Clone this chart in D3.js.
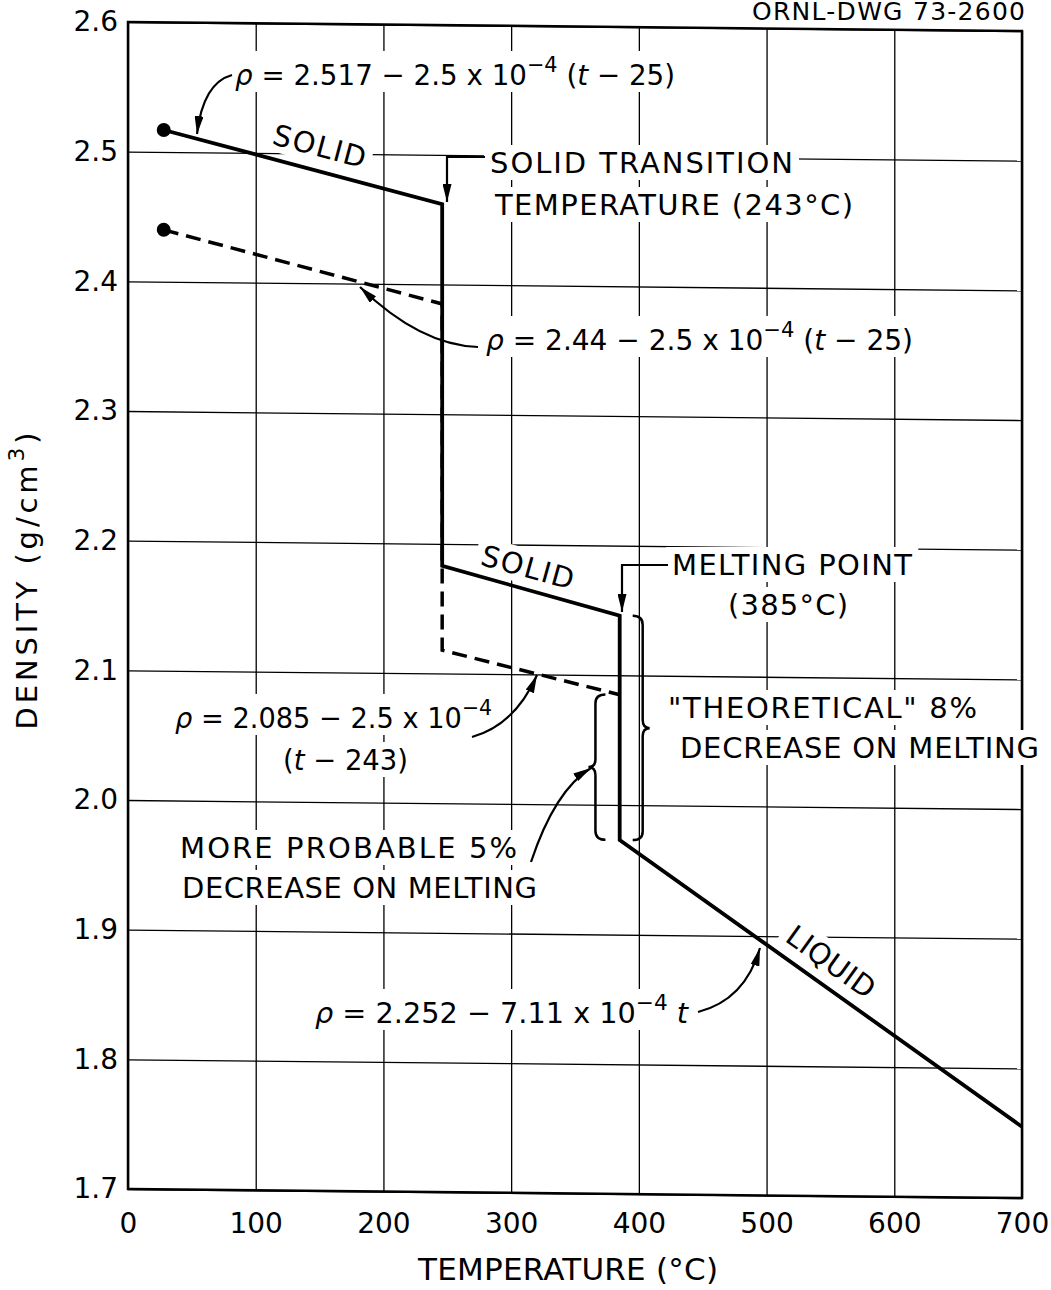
<!DOCTYPE html>
<html>
<head>
<meta charset="utf-8">
<script src="https://cdn.jsdelivr.net/npm/d3@7"></script>
<style>
body { margin: 0; background: #fff; }
svg text { font-family: "DejaVu Sans", sans-serif; fill: #000; }
</style>
</head>
<body>
<script>
// DATA  (temperature in deg C, density in g/cm3)
var xTicks = [0, 100, 200, 300, 400, 500, 600, 700];
var yTicks = [1.7, 1.8, 1.9, 2.0, 2.1, 2.2, 2.3, 2.4, 2.5, 2.6];

// measured curve: solid -> transition drop -> solid -> melting drop -> liquid
var solidT   = [28, 246, 246, 385, 385, 700];
var solidRho = [2.517, 2.462, 2.183, 2.146, 1.973, 1.755];

// dashed curve starting from 2.44
var dashT   = [28, 246, 246, 385];
var dashRho = [2.440, 2.385, 2.118, 2.085];

// starting points
var dotT   = [28, 28];
var dotRho = [2.517, 2.440];

// braces marking the decrease on melting
var meltT       = 385;
var braceT      = [403, 366];
var braceTop    = [2.146, 2.085];
var braceBottom = [1.973, 1.973];

// SETUP
var w = 1051;
var h = 1290;
var pL = 128, pR = 1022, pT = 22, pB = 1189;

var x = d3.scaleLinear().domain([0, 700]).range([pL, pR]);
var y = d3.scaleLinear().domain([1.7, 2.6]).range([pB, pT]);

// the drawing is a little tilted on the scan
var skew = "translate(" + pL + "," + pT + ") skewY(0.58) translate(" + (-pL) + "," + (-pT) + ")";

var svg = d3.select("body")
  .append("svg")
  .attr("width", w)
  .attr("height", h);

svg.append("defs").append("marker")
  .attr("id", "ah")
  .attr("viewBox", "0 0 18 9")
  .attr("refX", 18)
  .attr("refY", 4.5)
  .attr("markerWidth", 18)
  .attr("markerHeight", 9)
  .attr("markerUnits", "userSpaceOnUse")
  .attr("orient", "auto")
  .append("path")
  .attr("d", "M0,0L18,4.5L0,9Z")
  .attr("fill", "#000");

// GRID + FRAME
var back = svg.append("g").attr("transform", skew);

back.append("g")
  .attr("transform", "translate(0," + pB + ")")
  .call(d3.axisBottom(x).tickValues(xTicks).tickSize(-(pB - pT)).tickFormat(""))
  .call(function(g) { g.select(".domain").remove(); });

back.append("g")
  .attr("transform", "translate(" + pL + ",0)")
  .call(d3.axisLeft(y).tickValues(yTicks).tickSize(-(pR - pL)).tickFormat(""))
  .call(function(g) { g.select(".domain").remove(); });

back.selectAll(".tick line")
  .attr("stroke", "#000")
  .attr("stroke-width", 1.3);

back.append("rect")
  .attr("x", pL)
  .attr("y", pT)
  .attr("width", pR - pL)
  .attr("height", pB - pT)
  .attr("fill", "none")
  .attr("stroke", "#000")
  .attr("stroke-width", 2.5);

// AXES (labels only)
var yAxis = svg.append("g")
  .attr("transform", "translate(" + pL + ",0)")
  .call(d3.axisLeft(y).tickValues(yTicks).tickSize(0).tickPadding(10).tickFormat(d3.format(".1f")));
var xAxis = svg.append("g")
  .attr("transform", "translate(0," + pB + ")")
  .call(d3.axisBottom(x).tickValues(xTicks).tickSize(0).tickPadding(24));
[xAxis, yAxis].forEach(function(a) {
  a.select(".domain").remove();
  a.selectAll("text")
   .attr("font-family", "DejaVu Sans, sans-serif")
   .attr("font-size", 28)
   .attr("fill", "#000");
});

// TEXT LAYER
var layer = svg.append("g");

// parts: [string, kind]  kind: "" | "i" (italic) | "sup"
function label(px, py, width, size, parts, opts) {
  opts = opts || {};
  var g = layer.append("g")
    .attr("transform", "translate(" + px + "," + py + ")" +
          (opts.rotate !== undefined ? " rotate(" + opts.rotate + ")" : ""));
  var bg = g.append("rect").attr("fill", "#fff");
  var t = g.append("text")
    .attr("font-size", size)
    .attr("text-anchor", opts.anchor || (opts.rotate !== undefined ? "middle" : "start"));
  var raised = false;
  parts.forEach(function(p) {
    var s = t.append("tspan").text(p[0]);
    if (p[1] === "i") s.attr("font-style", "italic");
    if (p[1] === "sup") {
      s.attr("font-size", size * 0.75).attr("dy", -size * 0.45);
      raised = true;
    } else if (raised) {
      s.attr("dy", size * 0.45);
      raised = false;
    }
  });
  // fit to the width on the drawing
  var natural = t.node().getComputedTextLength();
  t.attr("textLength", width)
   .attr("lengthAdjust", natural > width ? "spacingAndGlyphs" : "spacing");
  // lettering breaks the grid lines behind it
  if (opts.halo !== false) {
    var b = t.node().getBBox();
    bg.attr("x", b.x - 6).attr("y", b.y - 1)
      .attr("width", b.width + 12).attr("height", b.height + 1);
  } else {
    bg.remove();
  }
  return t;
}

var M = "\u2212";

label(752, 20, 273, 25, [["ORNL-DWG 73-2600", ""]], { halo: false });

label(235, 85, 440, 29, [["\u03c1", "i"], [" = 2.517 " + M + " 2.5 x 10", ""], [M + "4", "sup"], [" (", ""], ["t", "i"], [" " + M + " 25)", ""]]);
label(490, 173, 303, 29, [["SOLID TRANSITION", ""]]);
label(495, 215, 358, 29, [["TEMPERATURE (243\u00b0C)", ""]]);
label(486, 350, 427, 29, [["\u03c1", "i"], [" = 2.44 " + M + " 2.5 x 10", ""], [M + "4", "sup"], [" (", ""], ["t", "i"], [" " + M + " 25)", ""]]);
label(672, 575, 240, 29, [["MELTING POINT", ""]]);
label(728, 615, 120, 29, [["(385\u00b0C)", ""]]);
label(668, 718, 309, 29, [["\"THEORETICAL\" 8%", ""]]);
label(680, 758, 359, 29, [["DECREASE ON MELTING", ""]]);
label(175, 728, 317, 29, [["\u03c1", "i"], [" = 2.085 " + M + " 2.5 x 10", ""], [M + "4", "sup"]]);
label(283, 770, 125, 29, [["(", ""], ["t", "i"], [" " + M + " 243)", ""]]);
label(180, 858, 337, 29, [["MORE PROBABLE 5%", ""]]);
label(182, 898, 355, 29, [["DECREASE ON MELTING", ""]]);
label(315, 1023, 373, 29, [["\u03c1", "i"], [" = 2.252 " + M + " 7.11 x 10", ""], [M + "4", "sup"], [" ", ""], ["t", "i"]]);

label(317, 156, 95, 29, [["SOLID", ""]], { rotate: 15 });
label(525, 577, 95, 29, [["SOLID", ""]], { rotate: 15.4 });
label(825, 970, 102, 29, [["LIQUID", ""]], { rotate: 35.8 });

// axis titles
label(568, 1280, 300, 31, [["TEMPERATURE (\u00b0C)", ""]], { halo: false, anchor: "middle" });
label(37, 581, 297, 29, [["DENSITY  (g/cm", ""], ["3", "sup"], [")", ""]], { halo: false, rotate: -90 });

// DATA LINES
var front = svg.append("g").attr("transform", skew);
var line = d3.line()
  .x(function(d) { return x(d[0]); })
  .y(function(d) { return y(d[1]); });

front.append("path")
  .datum(d3.zip(dashT, dashRho))
  .attr("d", line)
  .attr("fill", "none")
  .attr("stroke", "#000")
  .attr("stroke-width", 3.5)
  .attr("stroke-dasharray", "15,8");

front.append("path")
  .datum(d3.zip(solidT, solidRho))
  .attr("d", line)
  .attr("fill", "none")
  .attr("stroke", "#000")
  .attr("stroke-width", 3.8)
  .attr("stroke-linejoin", "miter");

front.selectAll("circle")
  .data(d3.zip(dotT, dotRho))
  .enter()
  .append("circle")
  .attr("cx", function(d) { return x(d[0]); })
  .attr("cy", function(d) { return y(d[1]); })
  .attr("r", 7)
  .attr("fill", "#000");

// braces
front.selectAll(".brace")
  .data(d3.zip(braceT, braceTop, braceBottom))
  .enter()
  .append("path")
  .attr("class", "brace")
  .attr("d", function(d) {
    var s = d[0] > meltT ? 1 : -1;
    var bx = x(d[0]), y1 = y(d[1]), y2 = y(d[2]), ym = (y1 + y2) / 2;
    var hk = 10, tip = 7 * s;
    return "M" + (bx - hk * s) + "," + y1 +
      "Q" + bx + "," + y1 + " " + bx + "," + (y1 + 9) +
      "L" + bx + "," + (ym - 8) +
      "Q" + bx + "," + ym + " " + (bx + tip) + "," + ym +
      "Q" + bx + "," + ym + " " + bx + "," + (ym + 8) +
      "L" + bx + "," + (y2 - 9) +
      "Q" + bx + "," + y2 + " " + (bx - hk * s) + "," + y2;
  })
  .attr("fill", "none")
  .attr("stroke", "#000")
  .attr("stroke-width", 2.5);

// LEADERS + ARROWS
var arrows = [
  "M232,75 Q203,83 197,134",
  "M478,347 Q420,345 360,287",
  "M472,737 Q515,725 537,675",
  "M531,862 Q555,790 591,768",
  "M698,1012 Q745,1000 760,948",
  "M485,157 L447,157 L447,202",
  "M668,565 L622,565 L622,612"
];
svg.append("g")
  .selectAll("path")
  .data(arrows)
  .enter()
  .append("path")
  .attr("d", function(d) { return d; })
  .attr("fill", "none")
  .attr("stroke", "#000")
  .attr("stroke-width", 2.2)
  .attr("marker-end", "url(#ah)");
</script>
</body>
</html>
